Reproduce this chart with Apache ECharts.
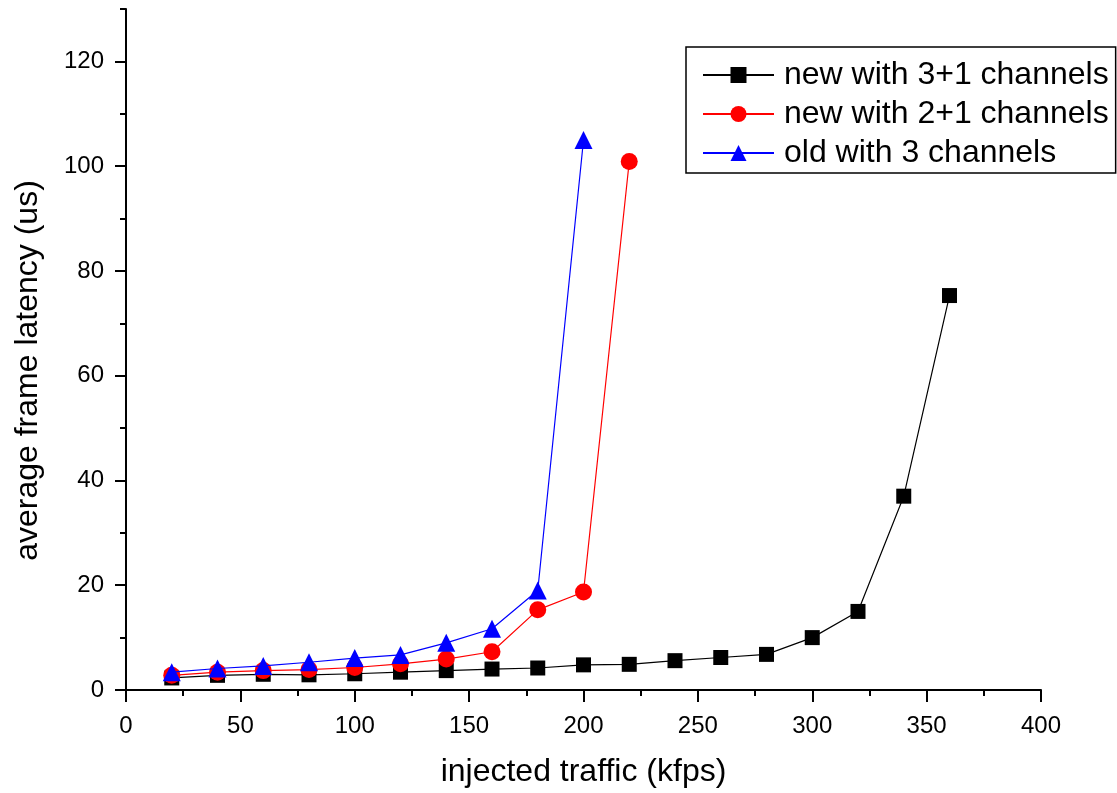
<!DOCTYPE html>
<html>
<head>
<meta charset="utf-8">
<script src="https://cdn.jsdelivr.net/npm/echarts@6/dist/echarts.min.js"></script>
<style>
    html, body { margin: 0; padding: 0; background: #fff; }
    #main { width: 1117px; height: 793px; }
</style>
</head>
<body>
<div id="main"></div>
<script>
    // traffic (kfps) and latency (us) per series
    const trafficNew31 = [20, 40, 60, 80, 100, 120, 140, 160, 180, 200, 220, 240, 260, 280, 300, 320, 340, 360];
    const latencyNew31 = [2.3, 2.8, 3.0, 2.9, 3.1, 3.4, 3.7, 4.0, 4.2, 4.8, 4.9, 5.6, 6.2, 6.8, 10.0, 15.0, 37.0, 75.3];

    const trafficNew21 = [20, 40, 60, 80, 100, 120, 140, 160, 180, 200, 220];
    const latencyNew21 = [2.8, 3.4, 3.7, 3.9, 4.3, 5.0, 5.9, 7.3, 15.3, 18.7, 100.9];

    const trafficOld3 = [20, 40, 60, 80, 100, 120, 140, 160, 180, 200];
    const latencyOld3 = [3.4, 4.1, 4.6, 5.3, 6.1, 6.7, 9.0, 11.7, 19.0, 105.0];

    const yMajorTicks = [0, 20, 40, 60, 80, 100, 120];

    const seriesNames = ['new with 3+1 channels', 'new with 2+1 channels', 'old with 3 channels'];

    const pairs = (xs, ys) => xs.map((x, i) => [x, ys[i]]);

    const font = '"Liberation Sans", Arial, sans-serif';

    const myChart = echarts.init(document.getElementById('main'));

    const option = {
        animation: false,
        backgroundColor: '#fff',
        grid: { left: 126, right: 76, top: 9, bottom: 102 },
        legend: {
            orient: 'vertical',
            left: 686,
            top: 47,
            padding: [12, 7, 4, 16],
            itemGap: 7,
            itemWidth: 71,
            itemHeight: 20,
            borderColor: '#000',
            borderWidth: 1.5,
            textStyle: { fontFamily: font, fontSize: 32, color: '#000', padding: [0, 0, 0, 5] },
            data: seriesNames
        },
        xAxis: {
            type: 'value',
            min: 0,
            max: 400,
            interval: 50,
            name: 'injected traffic (kfps)',
            nameLocation: 'middle',
            nameGap: 66,
            nameTextStyle: { fontFamily: font, fontSize: 32, color: '#000' },
            axisLine: { lineStyle: { color: '#000', width: 2 } },
            axisTick: { length: 12, lineStyle: { color: '#000', width: 2 } },
            minorTick: { show: true, splitNumber: 2, length: 6, lineStyle: { color: '#000', width: 2 } },
            splitLine: { show: false },
            axisLabel: { fontFamily: font, fontSize: 24, color: '#000', margin: 24 }
        },
        yAxis: [
            {
                type: 'value',
                min: 0,
                max: 130,
                interval: 10,
                name: 'average frame latency (us)',
                nameLocation: 'middle',
                nameGap: 82,
                nameTextStyle: { fontFamily: font, fontSize: 32, color: '#000', padding: [0, 42, 0, 0] },
                axisLine: { show: true, lineStyle: { color: '#000', width: 2 } },
                axisTick: { show: true, length: 6, lineStyle: { color: '#000', width: 2 } },
                splitLine: { show: false },
                axisLabel: {
                    fontFamily: font, fontSize: 24, color: '#000', margin: 22,
                    formatter: v => (yMajorTicks.indexOf(v) >= 0 ? String(v) : '')
                }
            },
            {
                type: 'value',
                position: 'left',
                min: 0,
                max: 130,
                axisLine: { show: false },
                axisTick: { show: true, length: 11, customValues: yMajorTicks, lineStyle: { color: '#000', width: 2 } },
                axisLabel: { show: false },
                splitLine: { show: false }
            }
        ],
        series: [
            {
                name: seriesNames[0],
                type: 'line',
                data: pairs(trafficNew31, latencyNew31),
                symbol: 'rect',
                symbolSize: 15,
                z: 2,
                itemStyle: { color: '#000' },
                lineStyle: { color: '#000', width: 1.2 }
            },
            {
                name: seriesNames[1],
                type: 'line',
                data: pairs(trafficNew21, latencyNew21),
                symbol: 'circle',
                symbolSize: 17,
                z: 3,
                itemStyle: { color: '#ff0000' },
                lineStyle: { color: '#ff0000', width: 1.2 }
            },
            {
                name: seriesNames[2],
                type: 'line',
                data: pairs(trafficOld3, latencyOld3),
                symbol: 'triangle',
                symbolSize: 18,
                z: 4,
                itemStyle: { color: '#0000ff' },
                lineStyle: { color: '#0000ff', width: 1.2 }
            }
        ]
    };

    myChart.setOption(option);
</script>
</body>
</html>
